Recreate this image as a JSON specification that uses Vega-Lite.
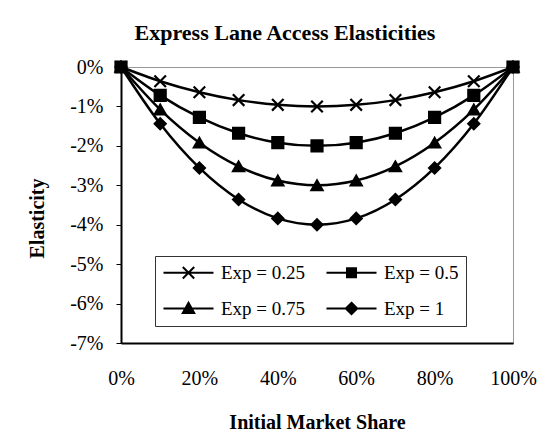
{
  "$schema": "https://vega.github.io/schema/vega-lite/v6.json",
  "width": 392,
  "height": 276,
  "autosize": "none",
  "padding": {"left": 121, "top": 67, "right": 44, "bottom": 102},
  "background": "white",
  "title": {
    "text": "Express Lane Access Elasticities",
    "font": "Liberation Serif",
    "fontSize": 22,
    "fontWeight": "bold",
    "color": "black",
    "anchor": "middle",
    "dx": -32,
    "offset": 12
  },
  "config": {
    "font": "Liberation Serif",
    "view": {"stroke": "#333333", "strokeWidth": 1, "strokeDash": [1, 1]},
    "axis": {
      "labelFont": "Liberation Serif",
      "labelFontSize": 20,
      "labelColor": "black",
      "titleFont": "Liberation Serif",
      "titleFontSize": 20,
      "titleFontWeight": "bold",
      "titleColor": "black",
      "domainColor": "black",
      "domainWidth": 2,
      "tickColor": "black",
      "tickWidth": 1,
      "grid": false
    }
  },
  "data": {
    "values": [
      {"share": 0.0, "series": "Exp = 0.25", "elasticity": 0.0},
      {"share": 0.1, "series": "Exp = 0.25", "elasticity": -0.0036},
      {"share": 0.2, "series": "Exp = 0.25", "elasticity": -0.0064},
      {"share": 0.3, "series": "Exp = 0.25", "elasticity": -0.0084},
      {"share": 0.4, "series": "Exp = 0.25", "elasticity": -0.0096},
      {"share": 0.5, "series": "Exp = 0.25", "elasticity": -0.0100},
      {"share": 0.6, "series": "Exp = 0.25", "elasticity": -0.0096},
      {"share": 0.7, "series": "Exp = 0.25", "elasticity": -0.0084},
      {"share": 0.8, "series": "Exp = 0.25", "elasticity": -0.0064},
      {"share": 0.9, "series": "Exp = 0.25", "elasticity": -0.0036},
      {"share": 1.0, "series": "Exp = 0.25", "elasticity": 0.0},
      {"share": 0.0, "series": "Exp = 0.5", "elasticity": 0.0},
      {"share": 0.1, "series": "Exp = 0.5", "elasticity": -0.0072},
      {"share": 0.2, "series": "Exp = 0.5", "elasticity": -0.0128},
      {"share": 0.3, "series": "Exp = 0.5", "elasticity": -0.0168},
      {"share": 0.4, "series": "Exp = 0.5", "elasticity": -0.0192},
      {"share": 0.5, "series": "Exp = 0.5", "elasticity": -0.0200},
      {"share": 0.6, "series": "Exp = 0.5", "elasticity": -0.0192},
      {"share": 0.7, "series": "Exp = 0.5", "elasticity": -0.0168},
      {"share": 0.8, "series": "Exp = 0.5", "elasticity": -0.0128},
      {"share": 0.9, "series": "Exp = 0.5", "elasticity": -0.0072},
      {"share": 1.0, "series": "Exp = 0.5", "elasticity": 0.0},
      {"share": 0.0, "series": "Exp = 0.75", "elasticity": 0.0},
      {"share": 0.1, "series": "Exp = 0.75", "elasticity": -0.0108},
      {"share": 0.2, "series": "Exp = 0.75", "elasticity": -0.0192},
      {"share": 0.3, "series": "Exp = 0.75", "elasticity": -0.0252},
      {"share": 0.4, "series": "Exp = 0.75", "elasticity": -0.0288},
      {"share": 0.5, "series": "Exp = 0.75", "elasticity": -0.0300},
      {"share": 0.6, "series": "Exp = 0.75", "elasticity": -0.0288},
      {"share": 0.7, "series": "Exp = 0.75", "elasticity": -0.0252},
      {"share": 0.8, "series": "Exp = 0.75", "elasticity": -0.0192},
      {"share": 0.9, "series": "Exp = 0.75", "elasticity": -0.0108},
      {"share": 1.0, "series": "Exp = 0.75", "elasticity": 0.0},
      {"share": 0.0, "series": "Exp = 1", "elasticity": 0.0},
      {"share": 0.1, "series": "Exp = 1", "elasticity": -0.0144},
      {"share": 0.2, "series": "Exp = 1", "elasticity": -0.0256},
      {"share": 0.3, "series": "Exp = 1", "elasticity": -0.0336},
      {"share": 0.4, "series": "Exp = 1", "elasticity": -0.0384},
      {"share": 0.5, "series": "Exp = 1", "elasticity": -0.0400},
      {"share": 0.6, "series": "Exp = 1", "elasticity": -0.0384},
      {"share": 0.7, "series": "Exp = 1", "elasticity": -0.0336},
      {"share": 0.8, "series": "Exp = 1", "elasticity": -0.0256},
      {"share": 0.9, "series": "Exp = 1", "elasticity": -0.0144},
      {"share": 1.0, "series": "Exp = 1", "elasticity": 0.0}
    ]
  },
  "encoding": {
    "x": {
      "field": "share",
      "type": "quantitative",
      "scale": {"domain": [0, 1], "nice": false},
      "axis": {
        "title": "Initial Market Share",
        "values": [0, 0.2, 0.4, 0.6, 0.8, 1],
        "format": ".0%",
        "labelFlush": false,
        "labelOverlap": false,
        "tickSize": 0,
        "labelPadding": 25,
        "titlePadding": 24
      }
    },
    "y": {
      "field": "elasticity",
      "type": "quantitative",
      "scale": {"domain": [-0.07, 0], "nice": false},
      "axis": {
        "title": "Elasticity",
        "values": [0, -0.01, -0.02, -0.03, -0.04, -0.05, -0.06, -0.07],
        "labelExpr": "(datum.value < 0 ? '-' : '') + format(abs(datum.value), '.0%')",
        "labelFlush": false,
        "tickSize": 5,
        "labelPadding": 13,
        "titlePadding": 22,
        "titleY": 151
      }
    }
  },
  "layer": [
    {
      "mark": {"type": "line", "color": "black", "strokeWidth": 2.5, "interpolate": "monotone"},
      "encoding": {"detail": {"field": "series"}}
    },
    {
      "mark": {"type": "point", "filled": true, "color": "black", "strokeWidth": 2.2, "size": 121, "opacity": 1},
      "encoding": {
        "shape": {
          "field": "series",
          "scale": {
            "domain": ["Exp = 0.25", "Exp = 0.5", "Exp = 0.75", "Exp = 1"],
            "range": ["M-1.05,-1.05L1.05,1.05M-1.05,1.05L1.05,-1.05", "square", "triangle-up", "diamond"]
          },
          "legend": null
        },
        "stroke": {"value": "black"}
      }
    },
    {
      "transform": [{"filter": "datum.share < 0"}],
      "mark": {"type": "point", "filled": true, "color": "black", "stroke": "black", "strokeWidth": 2, "opacity": 1, "size": 144},
      "encoding": {
        "shape": {
          "field": "series",
          "scale": {
            "domain": ["Exp = 0.25", "Exp = 0.5", "Exp = 0.75", "Exp = 1"],
            "range": [
              "M-4.17,0L4.17,0M-0.95,-0.95L0.95,0.95M-0.95,0.95L0.95,-0.95",
              "M-4.17,0L4.17,0M-0.75,-0.75L0.75,-0.75L0.75,0.75L-0.75,0.75Z",
              "M-4.17,0L4.17,0M0,-0.95L0.95,0.75L-0.95,0.75Z",
              "M-4.17,0L4.17,0M0,-0.95L0.95,0L0,0.95L-0.95,0Z"
            ]
          },
          "legend": {
            "title": null,
            "orient": "none",
            "legendX": 34,
            "legendY": 189,
            "columns": 2,
            "direction": "horizontal",
            "symbolSize": 144,
            "symbolStrokeWidth": 2,
            "symbolOffset": 17,
            "labelOffset": 23,
            "labelFont": "Liberation Serif",
            "labelFontSize": 19,
            "labelColor": "black",
            "columnPadding": 16,
            "rowPadding": 15,
            "padding": 7,
            "strokeColor": "#333333",
            "fillColor": "white",
            "encode": {
              "symbols": {
                "update": {
                  "fill": {"value": "black"},
                  "stroke": {"value": "black"},
                  "strokeWidth": {"value": 2},
                  "opacity": {"value": 1}
                }
              }
            }
          }
        }
      }
    }
  ],
  "resolve": {"scale": {"shape": "independent"}}
}
